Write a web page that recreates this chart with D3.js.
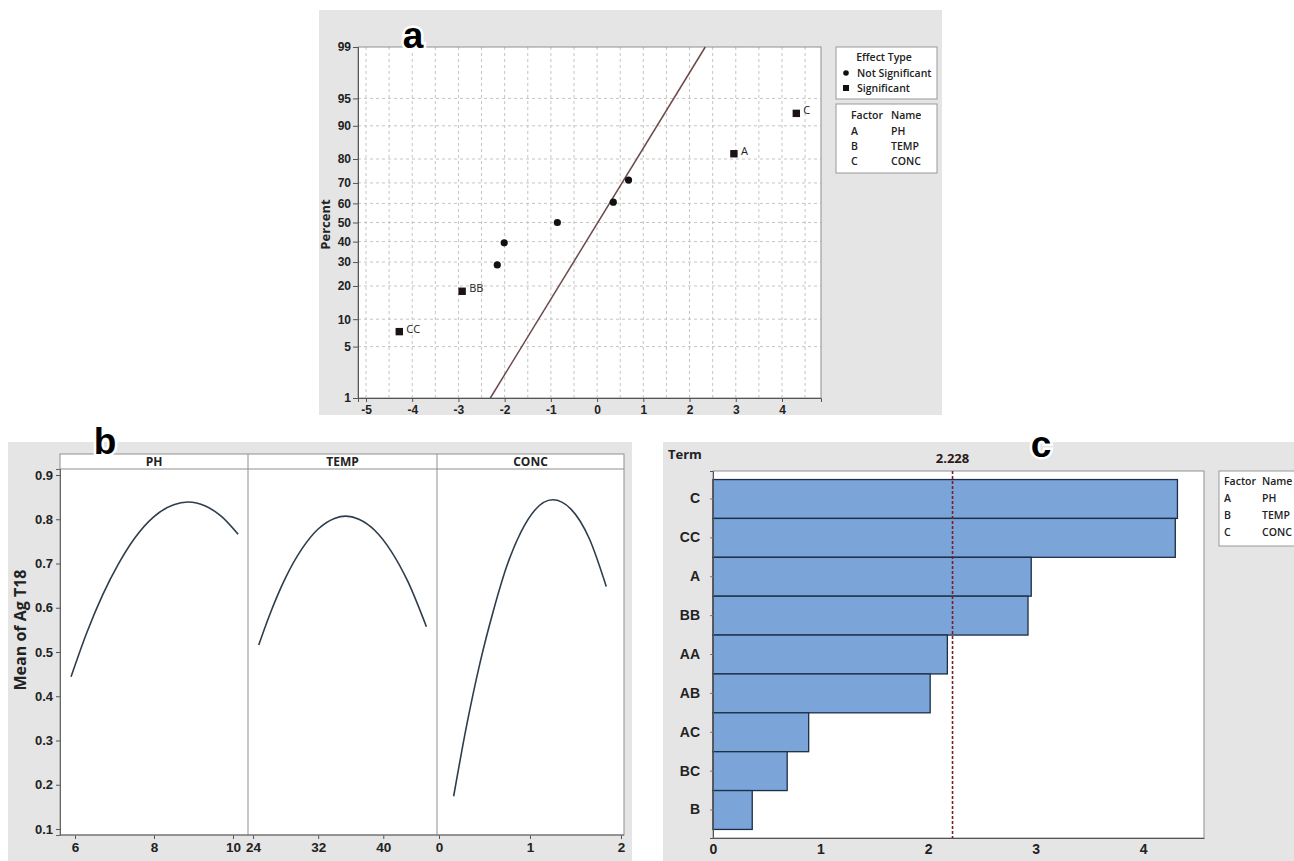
<!DOCTYPE html>
<html>
<head>
<meta charset="utf-8">
<script src="https://cdn.jsdelivr.net/npm/d3@7"></script>
<style>
  html, body { margin: 0; padding: 0; background: #ffffff; }
  svg { display: block; font-family: "Open Sans", "Noto Sans", sans-serif; }
  .tick text { font-weight: bold; fill: #222; }
</style>
</head>
<body>
<svg id="chart" width="1294" height="861"></svg>
<script>
// ---------- (a) normal plot of standardized effects ----------
const effectTerms   = ["C", "CC", "A", "BB", "AA", "AB", "AC", "BC", "B"];
const effectValues  = [4.31, -4.28, 2.96, -2.92, -2.16, -2.01, -0.86, 0.68, 0.35];
const effectPercent = [92.6, 7.4, 81.9, 18.1, 28.7, 39.4, 50.0, 71.3, 60.6];
const effectSignif  = [true, true, true, true, false, false, false, false, false];
const percentTicks  = [1, 5, 10, 20, 30, 40, 50, 60, 70, 80, 90, 95, 99];
const percentGrid   = [5, 10, 20, 30, 40, 50, 60, 70, 80, 90, 95];
const effectTicks   = [-5, -4, -3, -2, -1, 0, 1, 2, 3, 4];
const effectGrid    = [-5, -4.5, -4, -3.5, -3, -2.5, -2, -1.5, -1, -0.5, 0, 0.5, 1, 1.5, 2, 2.5, 3, 3.5, 4, 4.5];
const fitLineEffect = [-2.31, 2.34];
const fitLinePct    = [1, 99];
const effectTypes   = ["Not Significant", "Significant"];
const factorCodes   = ["A", "B", "C"];
const factorNames   = ["PH", "TEMP", "CONC"];

// ---------- (b) main effects plot ----------
const phX    = [5.9, 6.3, 6.7, 7.1, 7.5, 8.0, 8.5, 8.86, 9.3, 9.7, 10.13];
const phY    = [0.444, 0.544, 0.629, 0.699, 0.756, 0.806, 0.833, 0.839, 0.830, 0.807, 0.766];
const tempX  = [24.7, 26, 28, 30, 32, 34, 35.4, 37, 39, 41, 43, 45.3];
const tempY  = [0.516, 0.582, 0.668, 0.733, 0.778, 0.802, 0.807, 0.800, 0.774, 0.727, 0.660, 0.557];
const concX  = [0.161, 0.30, 0.45, 0.60, 0.75, 0.90, 1.05, 1.25, 1.45, 1.65, 1.838];
const concY  = [0.174, 0.330, 0.475, 0.595, 0.697, 0.771, 0.820, 0.844, 0.823, 0.757, 0.648];
const phTicks   = [6, 8, 10];
const tempTicks = [24, 32, 40];
const concTicks = [0, 1, 2];
const meanTicks = [0.1, 0.2, 0.3, 0.4, 0.5, 0.6, 0.7, 0.8, 0.9];

// ---------- (c) Pareto chart of standardized effects ----------
const paretoTerms  = ["C", "CC", "A", "BB", "AA", "AB", "AC", "BC", "B"];
const paretoValues = [4.32, 4.30, 2.96, 2.93, 2.18, 2.02, 0.89, 0.69, 0.365];
const paretoTicks  = [0, 1, 2, 3, 4];
const criticalT    = 2.228;

// inverse standard normal CDF (Acklam), used for the probability axis
function probit(p) {
  const a = [-3.969683028665376e+01, 2.209460984245205e+02, -2.759285104469687e+02, 1.383577518672690e+02, -3.066479806614716e+01, 2.506628277459239e+00];
  const b = [-5.447609879822406e+01, 1.615858368580409e+02, -1.556989798598866e+02, 6.680131188771972e+01, -1.328068155288572e+01];
  const c = [-7.784894002430293e-03, -3.223964580411365e-01, -2.400758277161838e+00, -2.549732539343734e+00, 4.374664141464968e+00, 2.938163982698783e+00];
  const d = [7.784695709041462e-03, 3.224671290700398e-01, 2.445134137142996e+00, 3.754408661907416e+00];
  const pl = 0.02425, ph = 1 - pl;
  let q, r;
  if (p < pl) {
    q = Math.sqrt(-2 * Math.log(p));
    return (((((c[0]*q+c[1])*q+c[2])*q+c[3])*q+c[4])*q+c[5]) / ((((d[0]*q+d[1])*q+d[2])*q+d[3])*q+1);
  }
  if (p <= ph) {
    q = p - 0.5; r = q * q;
    return (((((a[0]*r+a[1])*r+a[2])*r+a[3])*r+a[4])*r+a[5])*q / (((((b[0]*r+b[1])*r+b[2])*r+b[3])*r+b[4])*r+1);
  }
  q = Math.sqrt(-2 * Math.log(1 - p));
  return -(((((c[0]*q+c[1])*q+c[2])*q+c[3])*q+c[4])*q+c[5]) / ((((d[0]*q+d[1])*q+d[2])*q+d[3])*q+1);
}

const svg = d3.select("#chart");
const PANEL_BG = "#e5e5e5";
const FRAME = "#8f8f8f";
const plain = d => String(d);   // hyphen-minus, no trailing decimals

function panelLetter(x, y, txt) {
  svg.append("text")
    .attr("x", x).attr("y", y)
    .attr("text-anchor", "middle")
    .style("font-family", "'Liberation Sans', Arial, sans-serif")
    .style("font-weight", "bold")
    .style("font-size", "37px")
    .attr("fill", "#000")
    .attr("stroke", "#fff").attr("stroke-width", 5)
    .attr("paint-order", "stroke")
    .text(txt);
}

// =================== panel (a) ===================
(function () {
  const L = 358, R = 821, T = 47, B = 398;
  svg.append("rect").attr("x", 319).attr("y", 10).attr("width", 623).attr("height", 405).attr("fill", PANEL_BG);
  svg.append("rect").attr("x", L).attr("y", T).attr("width", R - L).attr("height", B - T).attr("fill", "#fff");

  const x = d3.scaleLinear().domain([-5.173, 4.844]).range([L, R]);
  const z = d3.scaleLinear().domain([probit(0.01), probit(0.99)]).range([B, T]);
  const y = p => z(probit(p / 100));

  const g = svg.append("g");
  // dotted reference grid
  g.selectAll(".vg").data(effectGrid).join("line")
    .attr("x1", d => x(d)).attr("x2", d => x(d)).attr("y1", T).attr("y2", B)
    .attr("stroke", "#c4c4c4").attr("stroke-width", 1).attr("stroke-dasharray", "3,3");
  g.selectAll(".hg").data(percentGrid).join("line")
    .attr("x1", L).attr("x2", R).attr("y1", d => y(d)).attr("y2", d => y(d))
    .attr("stroke", "#c4c4c4").attr("stroke-width", 1).attr("stroke-dasharray", "3,3");

  svg.append("rect").attr("x", L).attr("y", T).attr("width", R - L).attr("height", B - T)
    .attr("fill", "none").attr("stroke", FRAME);

  // axes
  const yAxis = d3.axisLeft(z)
    .tickValues(percentTicks.map(p => probit(p / 100)))
    .tickFormat((d, i) => percentTicks[i]).tickSize(5).tickPadding(2);
  const ya = svg.append("g").attr("transform", `translate(${L},0)`).call(yAxis);
  const xAxis = d3.axisBottom(x).tickValues(effectTicks).tickFormat(plain).tickSize(4).tickPadding(3);
  const xa = svg.append("g").attr("transform", `translate(0,${B})`).call(xAxis);
  [ya, xa].forEach(a => {
    a.select(".domain").attr("stroke", "#555");
    a.selectAll(".tick line").attr("stroke", "#555");
    a.selectAll(".tick text").style("font-size", "12px");
  });

  svg.append("text")
    .attr("transform", `translate(330,${(T + B) / 2 + 2}) rotate(-90)`)
    .attr("text-anchor", "middle")
    .style("font-size", "13px").style("font-weight", "bold").attr("fill", "#222")
    .text("Percent");

  // fitted reference line
  svg.append("line")
    .attr("x1", x(fitLineEffect[0])).attr("y1", y(fitLinePct[0]))
    .attr("x2", x(fitLineEffect[1])).attr("y2", y(fitLinePct[1]))
    .attr("stroke", "#6e4848").attr("stroke-width", 1.5);

  const pts = effectTerms.map((t, i) => ({ t, e: effectValues[i], p: effectPercent[i], s: effectSignif[i] }));
  svg.selectAll(".np").data(pts.filter(d => !d.s)).join("circle")
    .attr("cx", d => x(d.e)).attr("cy", d => y(d.p)).attr("r", 3.6).attr("fill", "#111");
  svg.selectAll(".sp").data(pts.filter(d => d.s)).join("rect")
    .attr("x", d => x(d.e) - 3.7).attr("y", d => y(d.p) - 3.7)
    .attr("width", 7.4).attr("height", 7.4).attr("fill", "#1b1212");
  svg.selectAll(".sl").data(pts.filter(d => d.s)).join("text")
    .attr("x", d => x(d.e) + 7).attr("y", d => y(d.p) + 1)
    .style("font-size", "11px").attr("fill", "#222")
    .text(d => d.t);

  // legends
  svg.append("rect").attr("x", 836).attr("y", 47).attr("width", 101).attr("height", 52)
    .attr("fill", "#fff").attr("stroke", "#999");
  svg.append("text").attr("x", 884).attr("y", 61).attr("text-anchor", "middle")
    .style("font-size", "10.5px").style("font-weight", "600").attr("fill", "#222").text("Effect Type");
  effectTypes.forEach((t, i) => {
    const yy = 73 + i * 15;
    if (i === 0) svg.append("circle").attr("cx", 846).attr("cy", yy).attr("r", 2.8).attr("fill", "#111");
    else svg.append("rect").attr("x", 843).attr("y", yy - 3).attr("width", 6).attr("height", 6).attr("fill", "#111");
    svg.append("text").attr("x", 857).attr("y", yy + 3.5)
      .style("font-size", "10.5px").style("font-weight", "600").attr("fill", "#222").text(t);
  });
  svg.append("rect").attr("x", 836).attr("y", 104).attr("width", 101).attr("height", 69)
    .attr("fill", "#fff").attr("stroke", "#999");
  svg.append("text").attr("x", 851).attr("y", 119).style("font-size", "10.5px").style("font-weight", "600").attr("fill", "#222").text("Factor");
  svg.append("text").attr("x", 891).attr("y", 119).style("font-size", "10.5px").style("font-weight", "600").attr("fill", "#222").text("Name");
  factorCodes.forEach((f, i) => {
    const yy = 135 + i * 15;
    svg.append("text").attr("x", 851).attr("y", yy).style("font-size", "10.5px").style("font-weight", "600").attr("fill", "#222").text(f);
    svg.append("text").attr("x", 891).attr("y", yy).style("font-size", "10.5px").style("font-weight", "600").attr("fill", "#222").text(factorNames[i]);
  });

  panelLetter(413, 48, "a");
})();

// =================== panel (b) ===================
(function () {
  const T = 454, S = 469, B = 835;
  const edges = [60, 248, 437, 624];
  svg.append("rect").attr("x", 8).attr("y", 442).attr("width", 624).attr("height", 419).attr("fill", PANEL_BG);
  svg.append("rect").attr("x", edges[0]).attr("y", T).attr("width", edges[3] - edges[0]).attr("height", B - T).attr("fill", "#fff");

  const y = d3.scaleLinear().domain([0.0864, 0.9136]).range([B, S]);
  const facets = [
    { name: "PH",   xs: phX,   ys: phY,   ticks: phTicks,   dom: [5.62, 10.38] },
    { name: "TEMP", xs: tempX, ys: tempY, ticks: tempTicks, dom: [23.38, 46.6] },
    { name: "CONC", xs: concX, ys: concY, ticks: concTicks, dom: [-0.022, 2.033] }
  ];

  facets.forEach((f, i) => {
    const x = d3.scaleLinear().domain(f.dom).range([edges[i], edges[i + 1]]);
    const line = d3.line().x(d => x(d[0])).y(d => y(d[1])).curve(d3.curveMonotoneX);
    svg.append("path").datum(f.xs.map((v, k) => [v, f.ys[k]]))
      .attr("d", line).attr("fill", "none").attr("stroke", "#2e3d4c").attr("stroke-width", 1.6);
    const xa = svg.append("g").attr("transform", `translate(0,${B})`)
      .call(d3.axisBottom(x).tickValues(f.ticks).tickSize(4).tickPadding(3).tickFormat(plain));
    xa.select(".domain").remove();
    xa.selectAll(".tick line").attr("stroke", "#555");
    xa.selectAll(".tick text").style("font-size", "13.5px");
    svg.append("text").attr("x", (edges[i] + edges[i + 1]) / 2).attr("y", T + 11.5)
      .attr("text-anchor", "middle").style("font-size", "12px").style("font-weight", "bold").attr("fill", "#222")
      .text(f.name);
  });

  // frame, strip and facet dividers
  svg.append("rect").attr("x", edges[0]).attr("y", T).attr("width", edges[3] - edges[0]).attr("height", B - T)
    .attr("fill", "none").attr("stroke", FRAME);
  svg.append("line").attr("x1", edges[0]).attr("x2", edges[3]).attr("y1", S).attr("y2", S).attr("stroke", FRAME);
  [edges[1], edges[2]].forEach(e => svg.append("line").attr("x1", e).attr("x2", e).attr("y1", T).attr("y2", B).attr("stroke", FRAME));
  svg.append("line").attr("x1", edges[0]).attr("x2", edges[3]).attr("y1", B).attr("y2", B).attr("stroke", "#666");

  const ya = svg.append("g").attr("transform", `translate(${edges[0]},0)`)
    .call(d3.axisLeft(y).tickValues(meanTicks).tickSize(4).tickPadding(3).tickFormat(d3.format(".1f")));
  ya.select(".domain").attr("stroke", "#666");
  ya.selectAll(".tick line").attr("stroke", "#555");
  ya.selectAll(".tick text").style("font-size", "13px");

  svg.append("text")
    .attr("transform", `translate(26,630) rotate(-90)`)
    .attr("text-anchor", "middle")
    .style("font-size", "16px").style("font-weight", "bold").attr("fill", "#222")
    .text("Mean of Ag T18");

  panelLetter(105, 454, "b");
})();

// =================== panel (c) ===================
(function () {
  const L = 713, R = 1204, T = 471, B = 838;
  svg.append("rect").attr("x", 663).attr("y", 442).attr("width", 631).attr("height", 419).attr("fill", PANEL_BG);
  svg.append("rect").attr("x", L).attr("y", T).attr("width", R - L).attr("height", B - T)
    .attr("fill", "#fff").attr("stroke", FRAME);

  const x = d3.scaleLinear().domain([0, 4.567]).range([L, R]);
  const y = d3.scaleBand().domain(paretoTerms).range([T, B]).paddingInner(0).paddingOuter(0.22);

  svg.selectAll(".bar").data(paretoTerms).join("rect")
    .attr("x", x(0)).attr("y", d => y(d))
    .attr("width", (d, i) => x(paretoValues[i]) - x(0)).attr("height", y.bandwidth())
    .attr("fill", "#7ba4d9").attr("stroke", "#1c2f47").attr("stroke-width", 1.3);

  svg.append("line").attr("x1", x(criticalT)).attr("x2", x(criticalT)).attr("y1", T).attr("y2", B)
    .attr("stroke", "#7a1f28").attr("stroke-width", 1.6).attr("stroke-dasharray", "3,2");
  svg.append("text").attr("x", x(criticalT)).attr("y", 463).attr("text-anchor", "middle")
    .style("font-size", "13px").style("font-weight", "bold").attr("fill", "#2a1a1a").text(criticalT);

  const ya = svg.append("g").attr("transform", `translate(${L},0)`)
    .call(d3.axisLeft(y).tickSize(3).tickPadding(10));
  ya.select(".domain").attr("stroke", "#555");
  ya.selectAll(".tick line").attr("stroke", "#777");
  ya.selectAll(".tick text").style("font-size", "14px");

  const xa = svg.append("g").attr("transform", `translate(0,${B})`)
    .call(d3.axisBottom(x).tickValues(paretoTicks).tickFormat(plain).tickSize(0).tickPadding(6));
  xa.select(".domain").attr("stroke", "#555");
  xa.selectAll(".tick text").style("font-size", "14px");

  svg.append("text").attr("x", 668).attr("y", 459)
    .style("font-size", "13px").style("font-weight", "bold").attr("fill", "#222").text("Term");

  // factor legend
  svg.append("rect").attr("x", 1219).attr("y", 471).attr("width", 100).attr("height", 75)
    .attr("fill", "#fff").attr("stroke", "#999");
  svg.append("text").attr("x", 1224).attr("y", 485).style("font-size", "10.5px").style("font-weight", "600").attr("fill", "#222").text("Factor");
  svg.append("text").attr("x", 1262).attr("y", 485).style("font-size", "10.5px").style("font-weight", "600").attr("fill", "#222").text("Name");
  factorCodes.forEach((f, i) => {
    const yy = 502 + i * 17;
    svg.append("text").attr("x", 1224).attr("y", yy).style("font-size", "10.5px").style("font-weight", "600").attr("fill", "#222").text(f);
    svg.append("text").attr("x", 1262).attr("y", yy).style("font-size", "10.5px").style("font-weight", "600").attr("fill", "#222").text(factorNames[i]);
  });

  panelLetter(1041, 457, "c");
})();
</script>
</body>
</html>
